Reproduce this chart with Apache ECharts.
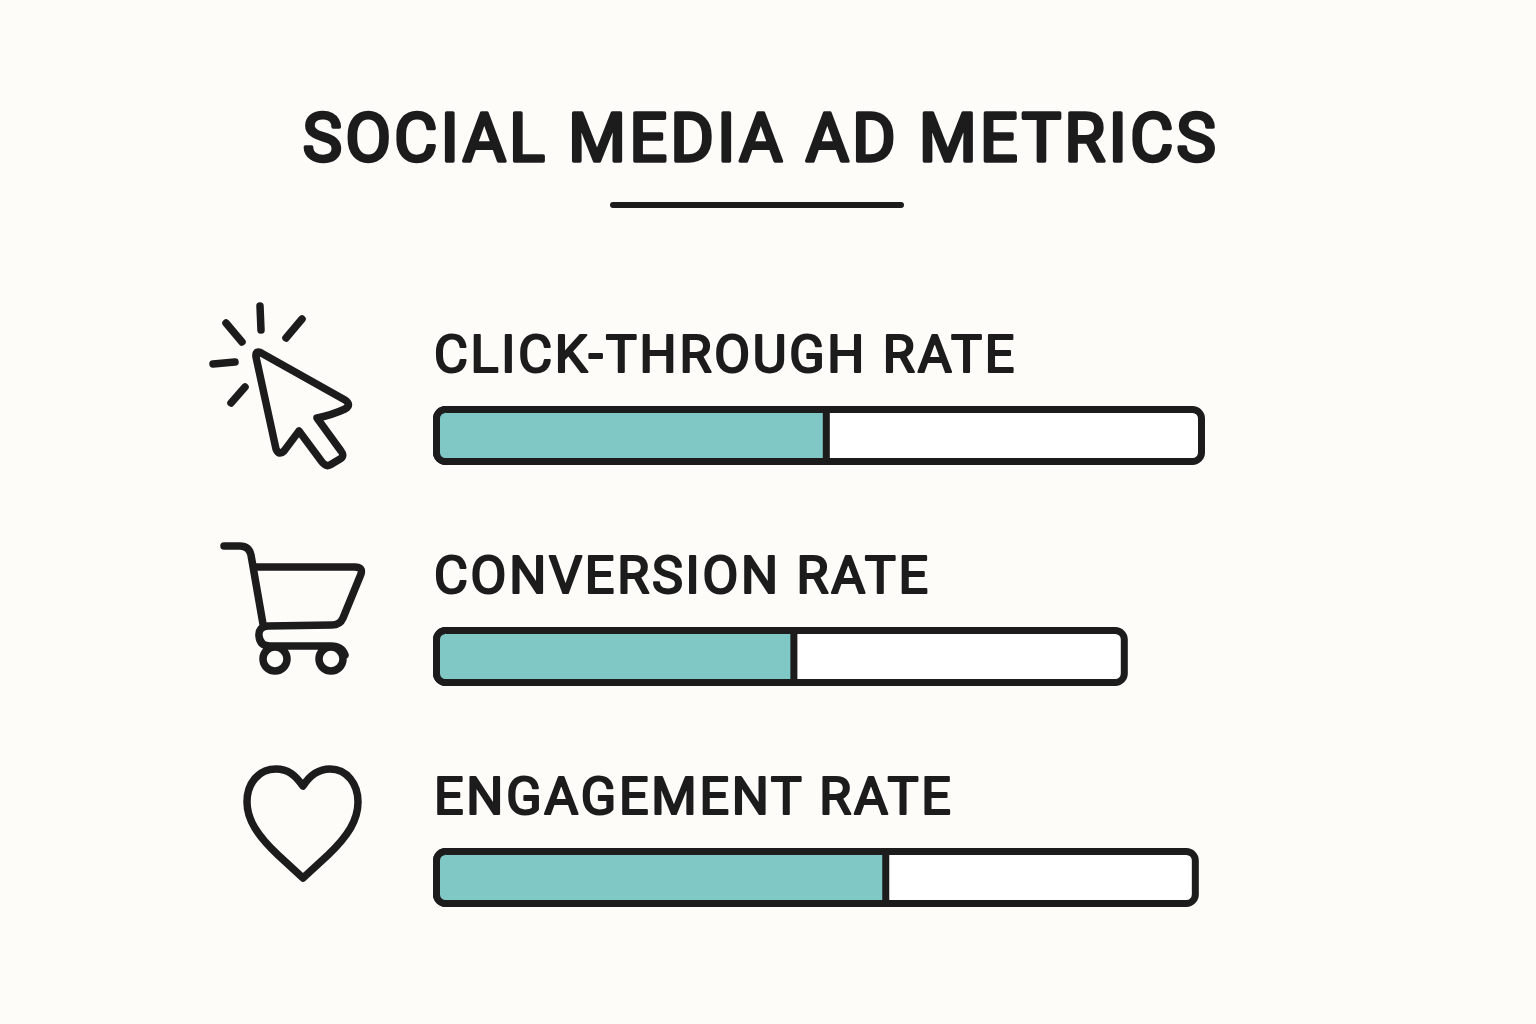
<!DOCTYPE html>
<html>
<head>
<meta charset="utf-8">
<title>Social Media Ad Metrics</title>
<script src="https://cdn.jsdelivr.net/npm/echarts@6/dist/echarts.min.js"></script>
<style>
	html, body { margin: 0; padding: 0; background: #fdfcf9; }
	#grafico { width: 1536px; height: 1024px; }
	#grafico text { letter-spacing: 0.053em; stroke-linejoin: round; stroke-linecap: round; }
</style>
</head>
<body>
<div id="grafico"></div>
<script>
// Valores (o comprimento da barra externa também varia)
const titulo = 'SOCIAL MEDIA AD METRICS';
const categorias = ['CLICK-THROUGH RATE', 'CONVERSION RATE', 'ENGAGEMENT RATE'];
const trilhas = [100, 90, 99.2];
const preenchidos = [51.4, 47.2, 59.1];

const corTinta = '#1c1c1c';
const corTeal = '#7fc8c6';
const fonte = 'Roboto';

// Ícones decorativos, em coordenadas da página
const iconeCursor = 'M260 306 L261 330 M226 323 L242 342 M302 319 L286 338 M213 364 L235 362 M245 387 L231 403 ' +
	'M256 357 Q255 349 263 354 L345 400 Q352 405 345 409 Q332 415 317 418 L341 451 Q345 456 340 459 L330 465 Q326 467 322 462 L299 431 L284 451 Q279 456 276 449 Z';
const iconeCarrinho = 'M224 546 L240 546 Q249 546 251 555 L263 624 M255 567 L355 567 Q363 567 361 574 L343 618 Q340 625 332 625 L268 626 ' +
	'Q258 627 259 636 Q260 646 270 646 L331 646 Q342 646 345 655 ' +
	'M263 659 A12 12 0 1 0 287 659 A12 12 0 1 0 263 659 M319 659 A12 12 0 1 0 343 659 A12 12 0 1 0 319 659';
const iconeCoracao = 'M303 786 C295 775 288 769 276 769 C258 769 247 784 247 802 C247 820 258 836 278 855 L303 878 L328 855 C348 836 358 820 358 802 C358 784 347 769 330 769 C318 769 310 775 303 786 Z';

// O graphic não aceita type 'path', então registramos cada ícone como forma
echarts.graphic.registerShape('iconeCursor', echarts.graphic.extendPath(iconeCursor, {}));
echarts.graphic.registerShape('iconeCarrinho', echarts.graphic.extendPath(iconeCarrinho, {}));
echarts.graphic.registerShape('iconeCoracao', echarts.graphic.extendPath(iconeCoracao, {}));

function desenharIcone(nome) {
	return {
		type: nome,
		style: { fill: 'none', stroke: corTinta, lineWidth: 7.5, lineCap: 'round', lineJoin: 'round' }
	};
}

const grafico = echarts.init(document.getElementById('grafico'), null, { renderer: 'svg' });

grafico.setOption({
	animation: false,
	backgroundColor: '#fdfcf9',
	title: {
		text: titulo,
		left: 756,
		top: 100,
		textAlign: 'center',
		textStyle: {
			fontFamily: fonte,
			fontSize: 66,
			fontWeight: 400,
			color: corTinta,
			textBorderColor: corTinta,
			textBorderWidth: 3.5
		}
	},
	grid: { left: 433, top: 325, width: 772, height: 663 },
	xAxis: { type: 'value', min: 0, max: 100, show: false },
	yAxis: { type: 'category', data: categorias, inverse: true, show: false },
	graphic: [
		{
			type: 'line',
			shape: { x1: 613, y1: 205, x2: 901, y2: 205 },
			style: { stroke: corTinta, lineWidth: 6, lineCap: 'round' }
		},
		desenharIcone('iconeCursor'),
		desenharIcone('iconeCarrinho'),
		desenharIcone('iconeCoracao')
	],
	series: [
		{
			name: 'Total',
			type: 'bar',
			data: trilhas,
			barWidth: 59,
			barGap: '-100%',
			itemStyle: { color: '#ffffff', borderColor: corTinta, borderWidth: 7, borderRadius: 9 },
			label: {
				show: true,
				position: [1, -77.5],
				formatter: p => p.name,
				fontFamily: fonte,
				fontSize: 52,
				fontWeight: 400,
				color: corTinta,
				textBorderColor: corTinta,
				textBorderWidth: 2.2
			}
		},
		{
			name: 'Atual',
			type: 'bar',
			data: preenchidos,
			barWidth: 59,
			itemStyle: { color: corTeal, borderColor: corTinta, borderWidth: 7, borderRadius: [9, 0, 0, 9] }
		}
	]
});
</script>
</body>
</html>
